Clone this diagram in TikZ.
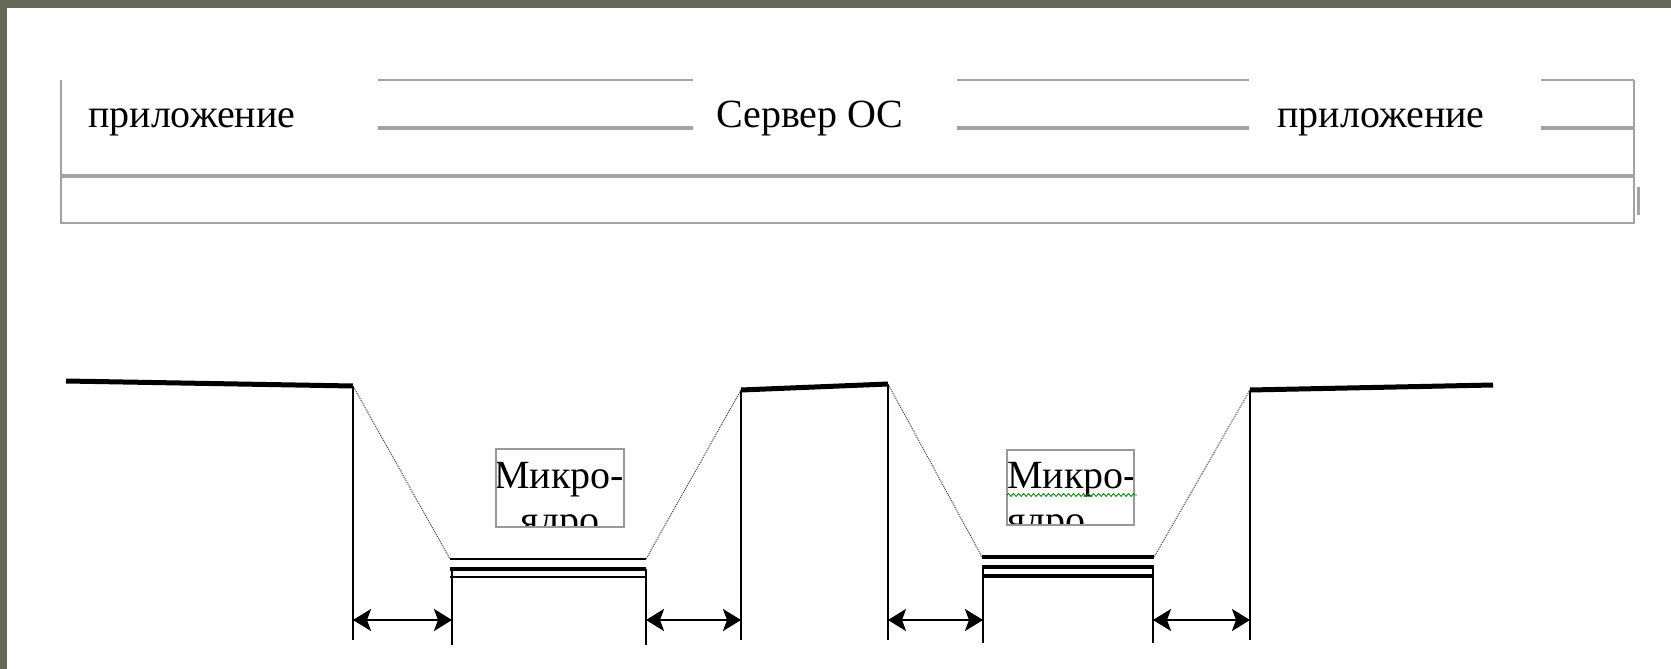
\documentclass[tikz,border=0pt]{standalone}
\usepackage{fontspec}
\setmainfont{Liberation Serif}
\usetikzlibrary{arrows.meta,positioning,decorations.pathmorphing}
\definecolor{slidegray}{HTML}{67675A}
\definecolor{panelgray}{HTML}{A3A3A3}

\begin{document}
\begin{tikzpicture}[x=1pt, y=-1pt, >={Stealth[length=18pt,width=22pt,inset=4pt]}]
        \tikzstyle{thin rule}=[draw=panelgray, line width=2pt]
        \tikzstyle{thick rule}=[draw=panelgray, line width=4pt]
        \tikzstyle{word}=[font=\fontsize{40}{44}\selectfont, inner sep=0pt]
        \tikzstyle{level}=[line width=5pt]
        \tikzstyle{wall}=[line width=2pt]
        \tikzstyle{link}=[densely dotted, line width=1pt, draw=black!75]
        \tikzstyle{gap}=[<->, line width=2.5pt]
        \tikzstyle{mkframe}=[draw=black!40, line width=1.5pt]
        \tikzstyle{mkline}=[line width=4pt]

        \useasboundingbox (0,0) rectangle (1671,669);
        \fill[white] (0,0) rectangle (1671,669);
        % slide frame
        \fill[slidegray] (0,0) rectangle (1671,8);
        \fill[slidegray] (0,0) rectangle (7,669);

        % top panel
        \coordinate (pNW) at (61,80);
        \coordinate (pNE) at (1634,80);
        \coordinate (pW)  at (61,176);
        \coordinate (pE)  at (1634,176);
        \coordinate (pSW) at (61,223);
        \coordinate (pSE) at (1634,223);
        \draw[thin rule] (pNW) -- (pSW) -- (pSE) -- (pNE);
        \draw[thick rule] (pW) -- (pE);
        \draw[panelgray, line width=3pt] (1638,187) -- (1638,215);
        \foreach \a/\b in {378/693, 957/1249, 1541/1634} {
            \draw[thin rule] (\a,80) -- (\b,80);
            \draw[thick rule] (\a,128) -- (\b,128);
        }
        \node[word, anchor=base west] (app1) at (88,128)  {приложение};
        \node[word, anchor=base]      (srv)  at (810,128) {Сервер ОС};
        \node[word, anchor=base]      (app2) at (1381,128) {приложение};

        % levels
        \coordinate (l1a) at (66,381);
        \coordinate (l1b) at (353,386);
        \coordinate (l2a) at (741,390);
        \coordinate (l2b) at (888,384);
        \coordinate (l3a) at (1250,390);
        \coordinate (l3b) at (1493,385);
        \coordinate (k1a) at (450,559);
        \coordinate (k1b) at (646,559);
        \coordinate (k2a) at (982,557);
        \coordinate (k2b) at (1154,557);
        % bottoms of the walls
        \coordinate (v1) at (353,640);
        \coordinate (v2) at (452,645);
        \coordinate (v3) at (646,645);
        \coordinate (v4) at (741,640);
        \coordinate (v5) at (888,640);
        \coordinate (v6) at (983,643);
        \coordinate (v7) at (1153,643);
        \coordinate (v8) at (1250,640);
        \coordinate (arrowrow) at (0,620);

        \draw[level] (l1a) -- (l1b);
        \draw[level] (l2a) -- (l2b);
        \draw[level] (l3a) -- (l3b);
        \draw[wall] (l1b) -- (v1);
        \draw[wall] (l2a) -- (v4);
        \draw[wall] (l2b) -- (v5);
        \draw[wall] (l3a) -- (v8);
        \draw[wall] (v2 |- 0,569) -- (v2);
        \draw[wall] (v3 |- 0,569) -- (v3);
        \draw[wall] (v6 |- 0,566) -- (v6);
        \draw[wall] (v7 |- 0,566) -- (v7);

        % microkernel 1
        \draw[line width=2pt] (k1a) -- (k1b);
        \draw[mkline] ([yshift=-10pt]k1a) -- ([yshift=-10pt]k1b);
        \draw[line width=2pt] ([yshift=-18pt]k1a) -- ([yshift=-18pt]k1b);
        % microkernel 2
        \draw[mkline] (k2a) -- (k2b);
        \draw[mkline] ([yshift=-10pt]k2a) -- ([yshift=-10pt]k2b);
        \draw[mkline] ([yshift=-19pt]k2a) -- ([yshift=-19pt]k2b);

        \draw[link] (l1b) -- (k1a);
        \draw[link] (k1b) -- (l2a);
        \draw[link] (l2b) -- (k2a);
        \draw[link] (k2b) -- (l3a);

        \draw[gap] (v1 |- arrowrow) -- (v2 |- arrowrow);
        \draw[gap] (v3 |- arrowrow) -- (v4 |- arrowrow);
        \draw[gap] (v5 |- arrowrow) -- (v6 |- arrowrow);
        \draw[gap] (v7 |- arrowrow) -- (v8 |- arrowrow);

        % labels
        \begin{scope}
            \clip (496,449) rectangle (624,527);
            \node[word, anchor=base] (mk1top) at (559,488) {Микро-};
            \node[word, anchor=base] (mk1bot) at (560,533) {ядро};
        \end{scope}
        \draw[mkframe] (496,449) rectangle (624,527);
        \begin{scope}
            \clip (1007,450) rectangle (1136,525);
            \node[word, anchor=base west] (mk2top) at (1007,488) {Микро-};
            \node[word, anchor=base west] (mk2bot) at (1007,533) {ядро};
        \end{scope}
        \draw[mkframe] (1007,450) rectangle (1134,525);
        \draw[green!50!black, line width=0.8pt, decorate,
              decoration={snake, amplitude=1.5pt, segment length=5pt}]
              ([yshift=-7pt]mk2top.base west) -- ([yshift=-7pt]mk2top.base east);
\end{tikzpicture}
\end{document}
